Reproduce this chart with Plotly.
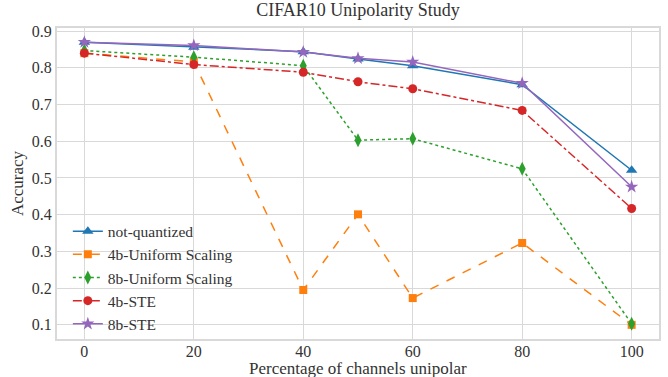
import plotly.graph_objects as go

x = [0, 20, 40, 50, 60, 80, 100]
not_quantized = [0.870, 0.856, 0.844, 0.824, 0.806, 0.754, 0.521]
uniform_4b = [0.840, 0.816, 0.195, 0.401, 0.173, 0.323, 0.100]
uniform_8b = [0.847, 0.829, 0.806, 0.603, 0.607, 0.525, 0.103]
ste_4b = [0.840, 0.809, 0.788, 0.762, 0.743, 0.684, 0.417]
ste_8b = [0.870, 0.861, 0.843, 0.826, 0.816, 0.758, 0.476]

series = [
    ("not-quantized", not_quantized, "#1f77b4", "solid", "triangle-up", 10),
    ("4b-Uniform Scaling", uniform_4b, "#ff7f0e", "dash", "square", 8),
    ("8b-Uniform Scaling", uniform_8b, "#2ca02c", "dot", "diamond-tall", 10),
    ("4b-STE", ste_4b, "#d62728", "dashdot", "circle", 9),
    ("8b-STE", ste_8b, "#9467bd", "solid", "star", 10),
]

font = "Liberation Serif"
fig = go.Figure()
for name, y, c, dash, sym, sz in series:
    fig.add_trace(go.Scatter(
        x=x, y=y, name=name, mode="lines+markers",
        line=dict(color=c, width=1.5, dash=dash),
        marker=dict(symbol=sym, size=sz, color=c, line=dict(width=0)),
    ))

fig.update_layout(
    width=668, height=377,
    margin=dict(l=57, r=9, t=28, b=38),
    paper_bgcolor="white", plot_bgcolor="white",
    font=dict(family=font, size=16, color="#333333"),
    title=dict(text="CIFAR10 Unipolarity Study", x=0.5, xref="paper", xanchor="center",
               y=1, yref="container", yanchor="top", pad=dict(t=3),
               font=dict(family=font, size=18, color="#333333")),
    legend=dict(x=0.018, y=0.4, xanchor="left", yanchor="top",
                bgcolor="rgba(0,0,0,0)", font=dict(family=font, size=15.5, color="#333333"),
                tracegroupgap=0, itemwidth=30),
    showlegend=True,
    annotations=[dict(text="Percentage of channels unipolar", x=0.5, y=0,
                      xref="paper", yref="paper", xanchor="center", yanchor="middle",
                      yshift=-29, showarrow=False,
                      font=dict(family=font, size=17, color="#333333"))],
)
fig.update_xaxes(
    range=[-5, 105], tickvals=[0, 20, 40, 60, 80, 100],
    showgrid=True, gridcolor="#d9d9d9", gridwidth=1,
    showline=True, linecolor="#d9d9d9", linewidth=2, mirror=True,
    zeroline=False, ticks="", ticklabelstandoff=-3, automargin=False,
)
fig.update_yaxes(
    range=[0.0615, 0.9085], tickvals=[0.1, 0.2, 0.3, 0.4, 0.5, 0.6, 0.7, 0.8, 0.9],
    tickformat=".1f", automargin=False,
    showgrid=True, gridcolor="#d9d9d9", gridwidth=1,
    showline=True, linecolor="#d9d9d9", linewidth=2, mirror=True,
    zeroline=False, ticks="",
    title=dict(text="Accuracy", standoff=4, font=dict(size=17)),
)

fig.write_html("out.html")
